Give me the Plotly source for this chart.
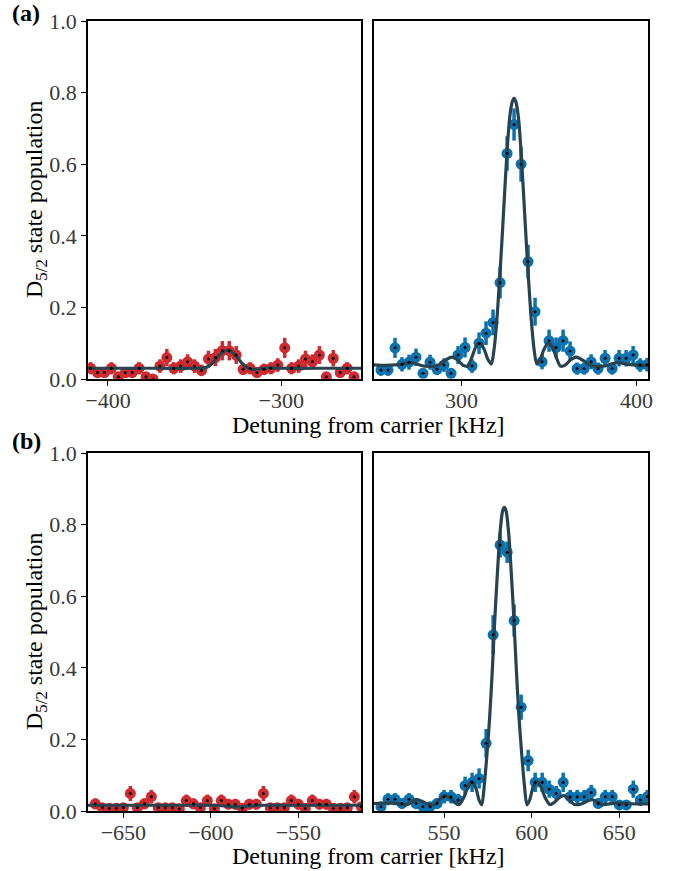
"""
Sideband spectra: D5/2 state population vs detuning, panels (a) and (b)
"""

import plotly.graph_objects as go

# ---- panel (a), red sideband ----
A_RED_DETUNING = [-410, -406, -402, -398, -394, -390, -386, -382, -378, -374,
                  -370, -366, -362, -358, -354, -350, -346, -342, -338, -334,
                  -330, -326, -322, -318, -314, -310, -306, -302, -298, -294,
                  -290, -286, -282, -278, -274, -270, -266, -262, -258]
A_RED_POP = [0.030, 0.018, 0.018, 0.030, 0.006, 0.018, 0.018, 0.030, 0.006, 0.000,
             0.036, 0.060, 0.030, 0.036, 0.048, 0.036, 0.024, 0.056, 0.060, 0.079,
             0.079, 0.067, 0.027, 0.030, 0.018, 0.027, 0.030, 0.039, 0.087, 0.030,
             0.036, 0.056, 0.048, 0.067, 0.006, 0.058, 0.018, 0.030, 0.006]
A_RED_ERR = [0.017, 0.015, 0.015, 0.017, 0.012, 0.015, 0.015, 0.017, 0.012, 0.010,
             0.019, 0.024, 0.017, 0.019, 0.021, 0.019, 0.016, 0.023, 0.024, 0.027,
             0.027, 0.025, 0.016, 0.017, 0.015, 0.016, 0.017, 0.019, 0.028, 0.017,
             0.019, 0.023, 0.021, 0.025, 0.012, 0.023, 0.015, 0.017, 0.012]
A_RED_FIT_X = [-414, -370, -350, -345, -342, -339, -336, -333, -331, -329, -326,
               -323, -320, -317, -313, -308, -300, -280, -250]
A_RED_FIT_Y = [0.030, 0.030, 0.030, 0.031, 0.035, 0.048, 0.065, 0.077, 0.080, 0.077,
               0.064, 0.046, 0.033, 0.027, 0.028, 0.031, 0.030, 0.030, 0.030]

# ---- panel (a), blue sideband ----
A_BLUE_DETUNING = [254, 258, 262, 266, 270, 274, 278, 282, 286, 290,
                   294, 298, 302, 306, 310, 314, 318, 322, 326, 330,
                   334, 338, 342, 346, 350, 354, 358, 362, 366, 370,
                   374, 378, 382, 386, 390, 394, 398, 402, 406]
A_BLUE_POP = [0.025, 0.025, 0.087, 0.041, 0.047, 0.061, 0.016, 0.047, 0.027, 0.039,
              0.016, 0.067, 0.088, 0.036, 0.100, 0.128, 0.158, 0.269, 0.630, 0.711,
              0.600, 0.328, 0.188, 0.048, 0.107, 0.088, 0.107, 0.078, 0.029, 0.029,
              0.048, 0.029, 0.058, 0.029, 0.058, 0.058, 0.067, 0.039, 0.040]
A_BLUE_ERR = [0.016, 0.016, 0.028, 0.020, 0.021, 0.024, 0.013, 0.021, 0.016, 0.019,
              0.013, 0.025, 0.028, 0.019, 0.030, 0.033, 0.036, 0.044, 0.048, 0.045,
              0.049, 0.047, 0.039, 0.021, 0.031, 0.028, 0.031, 0.027, 0.017, 0.017,
              0.021, 0.017, 0.023, 0.017, 0.023, 0.023, 0.025, 0.019, 0.019]
A_BLUE_FIT_X = [248, 256, 264, 271, 279, 286, 290, 294.5, 298, 301, 303.5, 306, 308,
                310.5, 313, 315, 317, 318.5, 320, 321.5, 323, 324.5, 326, 327.5, 329,
                330, 331, 332.5, 334, 335.5, 337, 338.5, 340, 341.5, 343, 345, 347,
                349.5, 352, 354, 356.5, 359, 362, 365.5, 370, 374, 381, 389, 396,
                404, 412]
A_BLUE_FIT_Y = [0.040, 0.038, 0.040, 0.046, 0.036, 0.037, 0.050, 0.061, 0.052, 0.038,
                0.036, 0.062, 0.088, 0.100, 0.082, 0.055, 0.042, 0.080, 0.155, 0.260,
                0.380, 0.510, 0.635, 0.730, 0.775, 0.784, 0.775, 0.730, 0.635, 0.510,
                0.380, 0.260, 0.155, 0.080, 0.042, 0.055, 0.082, 0.100, 0.088, 0.062,
                0.036, 0.038, 0.052, 0.061, 0.050, 0.037, 0.036, 0.046, 0.040, 0.038,
                0.040]

# ---- panel (b), red sideband ----
B_RED_DETUNING = [-666, -662, -658, -654, -650, -646, -642, -638, -634, -630,
                  -626, -622, -618, -614, -610, -606, -602, -598, -594, -590,
                  -586, -582, -578, -574, -570, -566, -562, -558, -554, -550,
                  -546, -542, -538, -534, -530, -526, -522, -518, -514]
B_RED_POP = [0.020, 0.009, 0.008, 0.008, 0.009, 0.049, 0.009, 0.020, 0.040, 0.009,
             0.009, 0.009, 0.006, 0.029, 0.020, 0.009, 0.029, 0.006, 0.029, 0.019,
             0.019, 0.008, 0.019, 0.019, 0.049, 0.009, 0.009, 0.009, 0.029, 0.019,
             0.008, 0.029, 0.019, 0.019, 0.008, 0.008, 0.009, 0.040, 0.012]
B_RED_ERR = [0.015, 0.012, 0.011, 0.011, 0.012, 0.021, 0.012, 0.015, 0.019, 0.012,
             0.012, 0.012, 0.011, 0.017, 0.015, 0.012, 0.017, 0.011, 0.017, 0.015,
             0.015, 0.011, 0.015, 0.015, 0.021, 0.012, 0.012, 0.012, 0.017, 0.015,
             0.011, 0.017, 0.015, 0.015, 0.011, 0.011, 0.012, 0.019, 0.012]
B_RED_FIT_X = [-675, -620, -600, -592, -585, -578, -570, -550, -505]
B_RED_FIT_Y = [0.016, 0.016, 0.016, 0.014, 0.011, 0.014, 0.016, 0.016, 0.016]

# ---- panel (b), blue sideband ----
B_BLUE_DETUNING = [514, 518, 522, 526, 530, 534, 538, 542, 546, 550,
                   554, 558, 562, 566, 570, 574, 578, 582, 586, 590,
                   594, 598, 602, 606, 610, 614, 618, 622, 626, 630,
                   634, 638, 642, 646, 650, 654, 658, 662, 666]
B_BLUE_POP = [0.012, 0.033, 0.033, 0.021, 0.033, 0.021, 0.012, 0.012, 0.021, 0.040,
              0.040, 0.031, 0.071, 0.080, 0.091, 0.189, 0.492, 0.743, 0.723, 0.532,
              0.290, 0.141, 0.080, 0.080, 0.061, 0.049, 0.080, 0.040, 0.040, 0.040,
              0.052, 0.021, 0.040, 0.040, 0.017, 0.017, 0.061, 0.031, 0.040]
B_BLUE_ERR = [0.012, 0.017, 0.017, 0.015, 0.017, 0.015, 0.012, 0.012, 0.015, 0.019,
              0.019, 0.017, 0.025, 0.027, 0.028, 0.040, 0.055, 0.035, 0.030, 0.045,
              0.035, 0.030, 0.027, 0.027, 0.024, 0.021, 0.027, 0.019, 0.019, 0.019,
              0.021, 0.015, 0.019, 0.019, 0.013, 0.013, 0.024, 0.017, 0.019]
B_BLUE_FIT_X = [505, 521, 528.5, 534.5, 540.5, 544.5, 547.5, 550.5, 553, 556, 558.5,
                561, 563.5, 565.7, 568, 570, 571.5, 573, 574.5, 576, 577.5, 579,
                580.5, 582, 583.4, 584.4, 585.4, 586.8, 588.3, 589.8, 591.3, 592.8,
                594.3, 595.8, 597.3, 598.8, 600.8, 603.1, 605.4, 607.9, 610.4, 612.9,
                615.9, 618.4, 621.4, 624.4, 628.4, 634.4, 640.4, 647.4, 660, 672]
B_BLUE_FIT_Y = [0.020, 0.022, 0.018, 0.032, 0.020, 0.018, 0.032, 0.043, 0.038, 0.024,
                0.018, 0.035, 0.066, 0.082, 0.066, 0.030, 0.017, 0.075, 0.160, 0.260,
                0.390, 0.540, 0.670, 0.780, 0.838, 0.848, 0.838, 0.780, 0.670, 0.540,
                0.390, 0.260, 0.160, 0.075, 0.017, 0.030, 0.066, 0.082, 0.066, 0.035,
                0.018, 0.024, 0.038, 0.043, 0.032, 0.018, 0.020, 0.032, 0.018, 0.022,
                0.020, 0.020]

RED = "#cf2a30"
BLUE = "#0b72b0"
FIT_COLOR = "#27434f"
FONT = "Liberation Serif"

W, H = 674, 871


def px_x(a, b):
    return [a / W, b / W]


def px_y(top, bottom):
    return [1 - bottom / H, 1 - top / H]


def add_panel(fig, ax, x, y, err, color, fit_x, fit_y):
    xa, ya = ax
    fig.add_trace(go.Scatter(
        x=x, y=y, mode="markers", xaxis=xa, yaxis=ya, showlegend=False,
        marker=dict(size=11, color=color),
        error_y=dict(type="data", array=err, color=color, thickness=3.5, width=0),
    ))
    fig.add_trace(go.Scatter(
        x=fit_x, y=fit_y, mode="lines", xaxis=xa, yaxis=ya, showlegend=False,
        line=dict(color=FIT_COLOR, width=3.2, shape="spline", smoothing=0.8),
    ))
    fig.add_trace(go.Scatter(
        x=x, y=y, mode="markers", xaxis=xa, yaxis=ya, showlegend=False,
        marker=dict(size=3, color="black"),
    ))


fig = go.Figure()
add_panel(fig, ("x", "y"), A_RED_DETUNING, A_RED_POP, A_RED_ERR, RED, A_RED_FIT_X, A_RED_FIT_Y)
add_panel(fig, ("x2", "y2"), A_BLUE_DETUNING, A_BLUE_POP, A_BLUE_ERR, BLUE, A_BLUE_FIT_X, A_BLUE_FIT_Y)
add_panel(fig, ("x3", "y3"), B_RED_DETUNING, B_RED_POP, B_RED_ERR, RED, B_RED_FIT_X, B_RED_FIT_Y)
add_panel(fig, ("x4", "y4"), B_BLUE_DETUNING, B_BLUE_POP, B_BLUE_ERR, BLUE, B_BLUE_FIT_X, B_BLUE_FIT_Y)

axis_style = dict(
    showline=True, mirror=True, linecolor="black", linewidth=1.6,
    ticks="outside", ticklen=5, tickwidth=1.4, tickcolor="black",
    showgrid=False, zeroline=False, automargin=False,
    tickfont=dict(family=FONT, size=22, color="#3a3a3a"),
)
x_style = dict(axis_style, ticklabelstandoff=-4)
y_ticks = [0.0, 0.2, 0.4, 0.6, 0.8, 1.0]

fig.update_layout(
    width=W, height=H,
    margin=dict(l=0, r=0, t=0, b=0, autoexpand=False),
    plot_bgcolor="white", paper_bgcolor="white",
    font=dict(family=FONT, color="black"),
    xaxis=dict(x_style, domain=px_x(88, 361), anchor="y", range=[-411.5, -254],
               tickvals=[-400, -300]),
    yaxis=dict(axis_style, domain=px_y(21, 379), anchor="x", range=[0, 1],
               tickvals=y_ticks, tickformat=".1f"),
    xaxis2=dict(x_style, domain=px_x(374, 648), anchor="y2", range=[250, 406.5],
                tickvals=[300, 400]),
    yaxis2=dict(axis_style, domain=px_y(21, 379), anchor="x2", range=[0, 1],
                showticklabels=False, ticks=""),
    xaxis3=dict(x_style, domain=px_x(88, 361), anchor="y3", range=[-670.2, -514.2],
                tickvals=[-650, -600, -550]),
    yaxis3=dict(axis_style, domain=px_y(453, 811), anchor="x3", range=[0, 1],
                tickvals=y_ticks, tickformat=".1f"),
    xaxis4=dict(x_style, domain=px_x(374, 648), anchor="y4", range=[510, 666.4],
                tickvals=[550, 600, 650]),
    yaxis4=dict(axis_style, domain=px_y(453, 811), anchor="x4", range=[0, 1],
                showticklabels=False, ticks=""),
)

label_font = dict(family=FONT, size=24, color="black")
annotations = [
    dict(text="Detuning from carrier [kHz]", x=368.5, y=425),
    dict(text="Detuning from carrier [kHz]", x=368.5, y=856),
    dict(text="D<sub>5/2</sub> state population", x=36, y=200, textangle=-90),
    dict(text="D<sub>5/2</sub> state population", x=36, y=632, textangle=-90),
    dict(text="<b>(a)</b>", x=26, y=13),
    dict(text="<b>(b)</b>", x=26, y=441),
]
for ann in annotations:
    ann["x"] = ann["x"] / W
    ann["y"] = 1 - ann["y"] / H
    fig.add_annotation(
        xref="paper", yref="paper", showarrow=False,
        xanchor="center", yanchor="middle", font=label_font, **ann
    )

# drop the default body margin so the figure fills the window exactly
fig.write_html(
    "out.html",
    config={"displayModeBar": False},
    post_script="document.body.style.margin = '0px';",
)
